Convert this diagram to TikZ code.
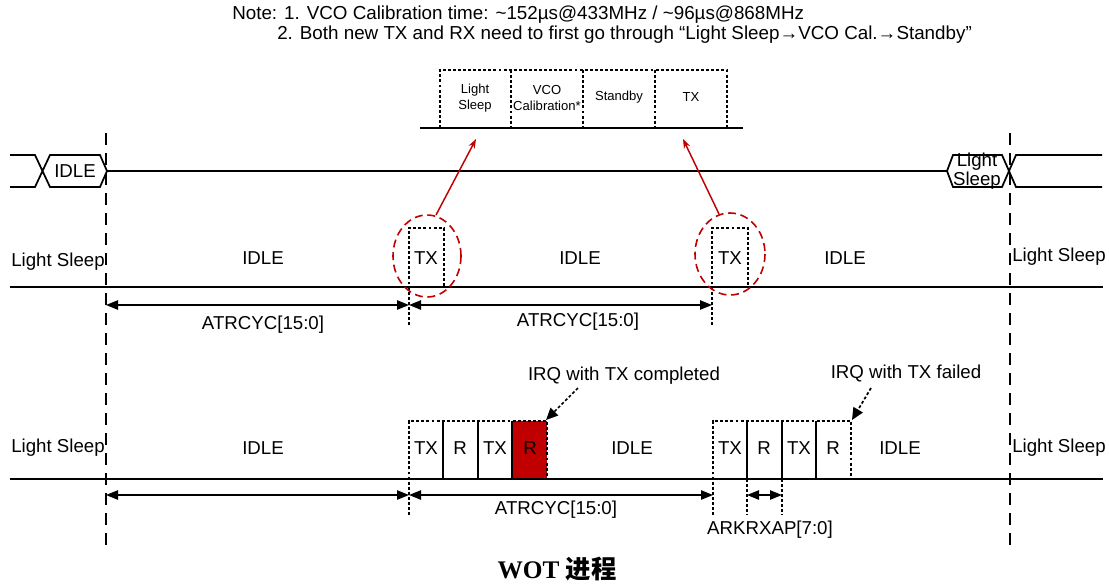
\documentclass[tikz,border=0pt]{standalone}
\usepackage{fontspec}
\setmainfont{Liberation Sans}
\newfontfamily\notefont{Liberation Sans}
\newfontfamily\titlefont{Liberation Serif}
\newfontfamily\cjk{Noto Sans CJK SC}
\usetikzlibrary{arrows.meta}
\definecolor{darkred}{HTML}{C00000}
\tikzset{
  sig/.style={line width=1.3pt,line join=miter},
  vdash/.style={line width=1.1pt,dash pattern=on 9pt off 6pt},
  dotbox/.style={line width=1.2pt,dash pattern=on 2.2pt off 1.6pt},
  divider/.style={line width=0.9pt},
  dim/.style={line width=1.1pt,{Triangle[length=9pt,width=7pt]}-{Triangle[length=9pt,width=7pt]}},
  redring/.style={draw=darkred,line width=1.2pt,dash pattern=on 6pt off 3.5pt},
  redarrow/.style={draw=darkred,line width=1.1pt,-{Stealth[length=7pt,width=5pt]}},
  irqarrow/.style={line width=1.3pt,dash pattern=on 2.2pt off 1.6pt,-{Triangle[length=9pt,width=8pt]}},
  lbl/.style={inner sep=0pt,font=\fontsize{14}{14}\selectfont},
  small/.style={inner sep=0pt,align=center,font=\fontsize{9.8}{11.5}\selectfont},
  notestyle/.style={inner sep=0pt,anchor=west,font=\notefont\fontsize{14.1}{16}\selectfont},
}
\begin{document}
\begin{tikzpicture}[x=0.75pt,y=-0.75pt]
\path[use as bounding box] (0,0) rectangle (1109,583);

% note
\node[notestyle] (note1) at (232,15) {Note: 1. VCO Calibration time: \textasciitilde152µs@433MHz / \textasciitilde96µs@868MHz};
\node[notestyle] (note2) at (277,35) {2. Both new TX and RX need to first go through “Light Sleep→VCO Cal.→Standby”};

% vertical dashed boundaries
\coordinate (vlt) at (106,133); \coordinate (vlb) at (106,545);
\coordinate (vrt) at (1010,133); \coordinate (vrb) at (1010,545);
\draw[vdash] (vlt) -- (vlb);
\draw[vdash] (vrt) -- (vrb);

% ---- row 1 ----
\draw[sig] (10,155) -- (35,155) -- (50,187) -- (100,187) -- (107,171) -- (100,155) -- (50,155) -- (35,187) -- (10,187);
\draw[sig] (107,171) -- (947,171);
\draw[sig] (1102,155) -- (1016,155) -- (1002,187) -- (953,187) -- (947,171) -- (953,155) -- (1002,155) -- (1016,187) -- (1102,187);
\node[lbl] (idle0) at (75,171) {IDLE};
\node[inner sep=0pt,align=center,font=\fontsize{14}{12}\selectfont] (ls0) at (977,171) {Light\\Sleep};

% ---- top detail boxes ----
\draw[sig] (420,128) -- (743,128);
\draw[dotbox] (440,128) -- (440,70) -- (727,70) -- (727,128);
\draw[dotbox] (511,70) -- (511,128);
\draw[dotbox] (583,70) -- (583,128);
\draw[dotbox] (655,70) -- (655,128);
\node[small] (bLS) at (475,98) {Light\\Sleep};
\node[small] (bVCO) at (547,98) {VCO\\Calibration*};
\node[small] (bSB) at (619,97) {Standby};
\node[small] (bTX) at (691,97) {TX};
\coordinate (tipA) at (476,139);
\coordinate (tipB) at (683,139);

% ---- row 2 ----
\draw[sig] (10,287) -- (1103,287);
\node[lbl,anchor=west] (ls2l) at (11,262) {Light Sleep};
\node[lbl] (idle21) at (263,258) {IDLE};
\node[lbl] (idle22) at (580,258) {IDLE};
\node[lbl] (idle23) at (845,258) {IDLE};
\node[lbl,anchor=west] (ls2r) at (1012,257) {Light Sleep};
\draw[dotbox] (409,325) -- (409,228) -- (444,228) -- (444,287);
\draw[dotbox] (712,325) -- (712,228) -- (748,228) -- (748,287);
\node[lbl] (tx21) at (426,258) {TX};
\node[lbl] (tx22) at (730,258) {TX};
\draw[redring] (427,256) ellipse [x radius=34,y radius=41];
\draw[redring] (730,254) ellipse [x radius=35,y radius=41];
\coordinate (ringA) at (436,215);
\coordinate (ringB) at (719,214);
\draw[redarrow] (ringA) -- (tipA);
\draw[redarrow] (ringB) -- (tipB);
\coordinate (d1a) at (106,305); \coordinate (d1b) at (409,305); \coordinate (d1c) at (712,305);
\draw[dim] (d1a) -- (d1b);
\draw[dim] (d1b) -- (d1c);
\node[lbl] (at1) at (263,325) {ATRCYC[15:0]};
\node[lbl] (at2) at (578,322) {ATRCYC[15:0]};

% ---- row 3 ----
\fill[darkred] (512,421) rectangle (547,479);
\draw[sig] (10,479) -- (1103,479);
\node[lbl,anchor=west] (ls3l) at (11,448) {Light Sleep};
\node[lbl] (idle31) at (263,448) {IDLE};
\node[lbl] (idle32) at (632,448) {IDLE};
\node[lbl] (idle33) at (900,448) {IDLE};
\node[lbl,anchor=west] (ls3r) at (1012,448) {Light Sleep};
\draw[dotbox] (409,515) -- (409,421) -- (547,421) -- (547,479);
\draw[divider] (443,421) -- (443,479);
\draw[divider] (478,421) -- (478,479);
\draw[divider] (512,421) -- (512,479);
\node[lbl] (p1) at (426,448) {TX};
\node[lbl] (p2) at (460,448) {R};
\node[lbl] (p3) at (495,448) {TX};
\node[lbl] (p4) at (530,448) {R};
\draw[dotbox] (713,515) -- (713,421) -- (851,421) -- (851,479);
\draw[divider] (747,421) -- (747,479);
\draw[divider] (782,421) -- (782,479);
\draw[divider] (816,421) -- (816,479);
\draw[dotbox] (747,479) -- (747,515);
\draw[dotbox] (782,479) -- (782,515);
\node[lbl] (q1) at (730,448) {TX};
\node[lbl] (q2) at (764,448) {R};
\node[lbl] (q3) at (799,448) {TX};
\node[lbl] (q4) at (833,448) {R};

\node[lbl] (irq1) at (624,376) {IRQ with TX completed};
\node[lbl] (irq2) at (906,373) {IRQ with TX failed};
\coordinate (irq1s) at (578,388); \coordinate (irq1e) at (546,420);
\coordinate (irq2s) at (871,388); \coordinate (irq2e) at (852,420);
\draw[irqarrow] (irq1s) -- (irq1e);
\draw[irqarrow] (irq2s) -- (irq2e);

\coordinate (d2a) at (106,495); \coordinate (d2b) at (409,495); \coordinate (d2c) at (713,495);
\coordinate (d2d) at (747,495); \coordinate (d2e) at (782,495);
\draw[dim] (d2a) -- (d2b);
\draw[dim] (d2b) -- (d2c);
\draw[dim] (d2d) -- (d2e);
\node[lbl] (at3) at (556,510) {ATRCYC[15:0]};
\node[lbl] (ark) at (770,530) {ARKRXAP[7:0]};

% title
\node[inner sep=0pt,font=\fontsize{19}{19}\selectfont] (title) at (557,569) {\titlefont\bfseries WOT {\cjk\bfseries 进程}};
\end{tikzpicture}
\end{document}
